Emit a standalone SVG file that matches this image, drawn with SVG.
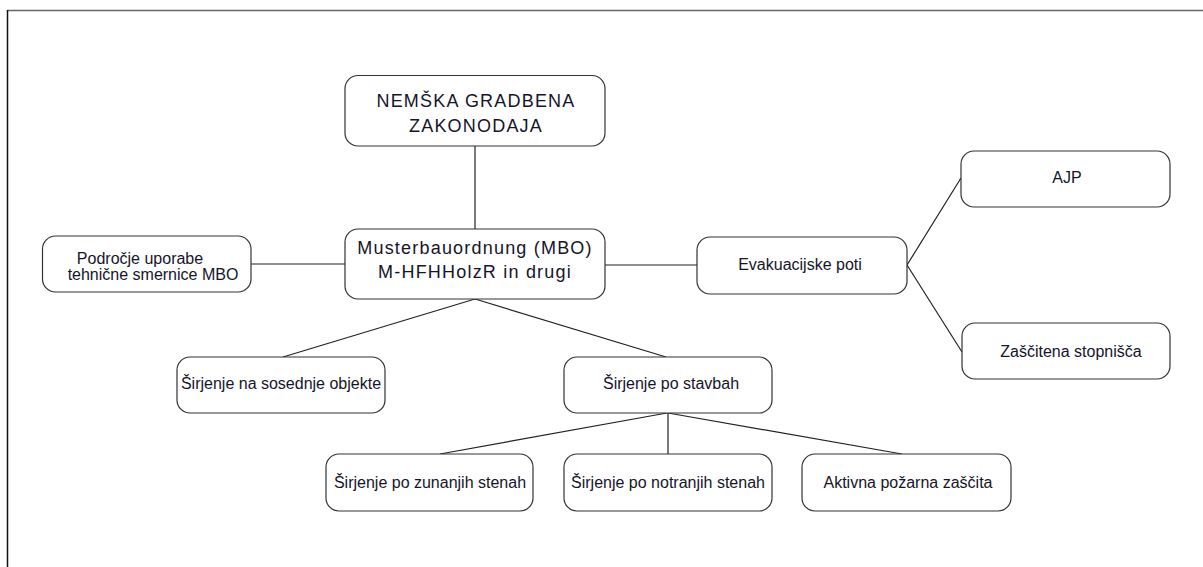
<svg xmlns="http://www.w3.org/2000/svg" width="1203" height="567" viewBox="0 0 1203 567">
  <style>
    .box { fill: #ffffff; stroke: #333333; stroke-width: 1.2; }
    .lbl { font-family: "Liberation Sans", Arial, sans-serif; font-size: 16px; fill: #15152a; text-anchor: middle; }
    .big { font-size: 18px; letter-spacing: 1.2px; }
    .link { stroke: #222222; stroke-width: 1.2; fill: none; }
  </style>
  <rect width="1203" height="567" fill="#ffffff"/>

  <!-- page frame -->
  <g id="frame">
    <line x1="7" y1="10.5" x2="1203" y2="10.5" stroke="#666666" stroke-width="1.5"/>
    <line x1="7.5" y1="10" x2="7.5" y2="567" stroke="#111111" stroke-width="1.5"/>
  </g>

  <!-- connectors -->
  <g id="connectors">
    <line class="link" x1="475" y1="146" x2="475" y2="229"/>
    <line class="link" x1="251" y1="264" x2="345" y2="264"/>
    <line class="link" x1="605" y1="265" x2="697" y2="265"/>
    <line class="link" x1="907" y1="265" x2="961" y2="178"/>
    <line class="link" x1="907" y1="265" x2="962" y2="352"/>
    <line class="link" x1="475" y1="299" x2="283" y2="357"/>
    <line class="link" x1="475" y1="299" x2="666" y2="357"/>
    <line class="link" x1="667" y1="413" x2="440" y2="454"/>
    <line class="link" x1="668" y1="413" x2="668" y2="454"/>
    <line class="link" x1="668" y1="413" x2="902" y2="454"/>
  </g>

  <g id="node-nemska">
    <rect class="box" x="345" y="75.5" width="260" height="70.5" rx="13"/>
    <text class="lbl big" x="476" y="107">NEMŠKA GRADBENA</text>
    <text class="lbl big" x="476" y="132">ZAKONODAJA</text>
  </g>

  <g id="node-mbo">
    <rect class="box" x="345" y="229" width="260" height="70" rx="13"/>
    <text class="lbl big" x="475" y="254">Musterbauordnung (MBO)</text>
    <text class="lbl big" x="475" y="278">M-HFHHolzR in drugi</text>
  </g>

  <g id="node-podrocje">
    <rect class="box" x="42.5" y="236" width="208.5" height="56" rx="13"/>
    <text class="lbl" x="140" y="264">Področje uporabe</text>
    <text class="lbl" x="153" y="280">tehnične smernice MBO</text>
  </g>

  <g id="node-evakuacijske">
    <rect class="box" x="697" y="237" width="210" height="57" rx="13"/>
    <text class="lbl" x="800" y="270">Evakuacijske poti</text>
  </g>

  <g id="node-ajp">
    <rect class="box" x="961" y="151" width="209" height="56" rx="13"/>
    <text class="lbl" x="1067" y="183">AJP</text>
  </g>

  <g id="node-stopnisca">
    <rect class="box" x="962" y="323" width="208" height="56" rx="13"/>
    <text class="lbl" x="1071" y="357">Zaščitena stopnišča</text>
  </g>

  <g id="node-sosednje">
    <rect class="box" x="177" y="357" width="208" height="56" rx="13"/>
    <text class="lbl" x="281" y="389">Širjenje na sosednje objekte</text>
  </g>

  <g id="node-stavbah">
    <rect class="box" x="564" y="357" width="208" height="56" rx="13"/>
    <text class="lbl" x="671" y="389">Širjenje po stavbah</text>
  </g>

  <g id="node-zunanjih">
    <rect class="box" x="326" y="454" width="207" height="57" rx="13"/>
    <text class="lbl" x="430" y="488">Širjenje po zunanjih stenah</text>
  </g>

  <g id="node-notranjih">
    <rect class="box" x="564" y="454" width="208" height="57" rx="13"/>
    <text class="lbl" x="668" y="488">Širjenje po notranjih stenah</text>
  </g>

  <g id="node-aktivna">
    <rect class="box" x="802" y="454" width="209" height="57" rx="13"/>
    <text class="lbl" x="908" y="488">Aktivna požarna zaščita</text>
  </g>
</svg>
